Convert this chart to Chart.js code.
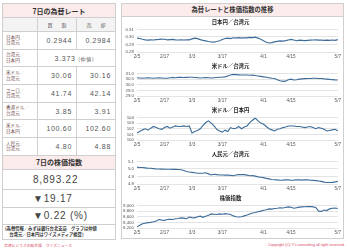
<!DOCTYPE html>
<html lang="ja">
<head>
<meta charset="UTF-8">
<title>為替レートと株価指数の推移</title>
<script src="https://cdn.jsdelivr.net/npm/chart.js"></script>
<style>
  body { margin: 0; width: 350px; height: 249px; background: #fff; position: relative; overflow: hidden;
         font-family: "Liberation Sans", "Noto Sans CJK JP", sans-serif; color: #555; }
  #left { position: absolute; left: 2px; top: 3px; width: 113px; }
  #left table { border-collapse: collapse; width: 113px; table-layout: fixed; }
  #left td { border: 1px solid #cfcfcf; padding: 0; }
  .band { background: #fcebeb; text-align: center; font-weight: bold; font-size: 7px; color: #333;
          font-family: "Noto Sans CJK JP", sans-serif; height: 13px; }
  .hdr td { background: #f3f3f3; height: 13px; text-align: center; font-size: 5px;
            font-family: "Noto Sans CJK JP", sans-serif; }
  .rate td { height: 16.7px; }
  .lbl { font-size: 4.6px; line-height: 5.7px; padding-left: 3px !important; color: #6d4545;
         font-family: "Noto Sans CJK JP", sans-serif; }
  .num { font-size: 7px; letter-spacing: 0.7px; text-align: right; padding-right: 4px !important; }
  .stock td { border-top: none; border-bottom: none; font-size: 10px; letter-spacing: 0.8px;
              padding-left: 30px !important; color: #444; }
  .note { font-size: 4.3px; line-height: 5.4px; font-weight: bold; color: #333; padding: 1px 2px !important;
          font-family: "Noto Sans CJK JP", sans-serif; height: 12px; }
  #right { position: absolute; left: 121px; top: 3px; width: 223px; height: 236px; box-sizing: border-box;
           border: 1px solid #cfcfcf; }
  #right .band { height: 12px; line-height: 12px; font-size: 6.3px; border-bottom: 1px solid #cfcfcf; }
  #right canvas { position: absolute; left: 0; }
  .foot { position: absolute; top: 243px; font-size: 3.8px; color: #d8475e; white-space: nowrap; }
</style>
</head>
<body>
<div id="left">
  <table>
    <colgroup><col style="width:35px"><col style="width:39px"><col style="width:39px"></colgroup>
    <tr><td class="band" colspan="3">7日の為替レート</td></tr>
    <tr class="hdr"><td></td><td><span style="letter-spacing:9px;margin-right:-9px">買取</span></td><td><span style="letter-spacing:9px;margin-right:-9px">売却</span></td></tr>
    <tr class="rate"><td class="lbl">日本円／<br>台湾元</td><td class="num">0.2944</td><td class="num">0.2984</td></tr>
    <tr class="rate"><td class="lbl">台湾元／<br>日本円</td><td class="num" colspan="2" style="text-align:center;padding-right:0">3.373 <span style="font-size:5px;font-family:'Noto Sans CJK JP'">(仲値)</span></td></tr>
    <tr class="rate"><td class="lbl">米ドル／<br>台湾元</td><td class="num">30.06</td><td class="num">30.16</td></tr>
    <tr class="rate"><td class="lbl">ユーロ／<br>台湾元</td><td class="num">41.74</td><td class="num">42.14</td></tr>
    <tr class="rate"><td class="lbl">香港ドル／<br>台湾元</td><td class="num">3.85</td><td class="num">3.91</td></tr>
    <tr class="rate"><td class="lbl">米ドル／<br>日本円</td><td class="num">100.60</td><td class="num">102.60</td></tr>
    <tr class="rate"><td class="lbl">人民元／<br>台湾元</td><td class="num">4.80</td><td class="num">4.88</td></tr>
    <tr><td class="band" colspan="3">7日の株価指数</td></tr>
    <tr class="stock"><td colspan="3" style="height:19px">8,893.22</td></tr>
    <tr class="stock"><td colspan="3" style="height:17px">▼19.17</td></tr>
    <tr class="stock"><td colspan="3" style="height:16px">▼0.22 (%)</td></tr>
    <tr><td class="note" colspan="3">(為替情報／みずほ銀行台北支店　グラフは仲値<br>　台湾元／日本円はワイズメディア換算)</td></tr>
  </table>
</div>
<div id="right">
  <div class="band">為替レートと株価指数の推移</div>
  <canvas id="c1" width="221" height="44" style="top:13px"></canvas>
  <canvas id="c2" width="221" height="44" style="top:57px"></canvas>
  <canvas id="c3" width="221" height="44" style="top:101px"></canvas>
  <canvas id="c4" width="221" height="44" style="top:145px"></canvas>
  <canvas id="c5" width="221" height="44" style="top:189px"></canvas>
</div>
<div class="foot" style="left:4px;font-family:'Noto Sans CJK JP'">台湾ビジネスの総合版　ワイズニュース</div>
<div class="foot" style="right:5px">Copyright (C) Y's consulting all right reserved.</div>

<script>
const dates = ["2/5","2/6","2/7","2/8","2/9","2/10","2/11","2/12","2/13","2/14","2/17",
  "2/18","2/19","2/20","2/21","2/22","2/24","2/25","2/26","2/27","3/3",
  "3/4","3/5","3/6","3/7","3/8","3/10","3/11","3/12","3/13","3/14","3/17",
  "3/18","3/19","3/20","3/21","3/22","3/23","3/24","3/25","3/26","3/27","3/28","3/29","3/30","3/31","4/1",
  "4/2","4/3","4/4","4/7","4/8","4/9","4/10","4/11","4/14","4/15",
  "4/16","4/17","4/18","4/19","4/21","4/22","4/23","4/24","4/25","4/26","4/28","4/29","4/30","5/2","5/5","5/6","5/7"];
const tickDates = ["2/5","2/17","3/3","3/17","4/1","4/15","5/7"];

const jpyTwd = [0.2985,0.2980,0.2970,0.2962,0.2958,0.2962,0.2960,0.2965,0.2968,0.2972,0.2970,
  0.2962,0.2965,0.2968,0.2962,0.2960,0.2962,0.2960,0.2964,0.2962,0.2975,
  0.2985,0.2978,0.2965,0.2955,0.2948,0.2940,0.2935,0.2932,0.2940,0.2950,0.2965,
  0.2980,0.2985,0.2978,0.2990,0.2985,0.2992,0.2985,0.2990,0.2988,0.2995,0.2992,0.2998,0.2985,0.2970,0.2950,
  0.2930,0.2920,0.2925,0.2935,0.2942,0.2948,0.2945,0.2952,0.2960,0.2968,
  0.2960,0.2950,0.2958,0.2955,0.2952,0.2955,0.2958,0.2960,0.2962,0.2958,0.2960,0.2955,0.2958,0.2955,0.2960,0.2955,0.2965];
const usdTwd = [30.62,30.60,30.58,30.60,30.62,30.60,30.58,30.60,30.62,30.60,30.57,
  30.58,30.62,30.64,30.62,30.65,30.66,30.64,30.65,30.66,30.66,
  30.64,30.62,30.60,30.62,30.64,30.62,30.60,30.62,30.64,30.66,30.66,
  30.70,30.78,30.86,30.92,30.90,30.88,30.86,30.87,30.86,30.84,30.85,30.82,30.78,30.74,30.70,
  30.66,30.62,30.58,30.56,30.45,30.35,30.30,30.32,30.45,30.50,
  30.42,30.45,30.50,30.52,30.54,30.55,30.56,30.58,30.57,30.56,30.55,30.52,30.50,30.48,30.45,30.43,30.42];
const usdJpy = [101.25,101.5,101.8,102.0,101.75,102.1,102.4,102.2,102.0,101.9,102.2,
  102.4,102.1,102.3,102.5,102.4,102.4,102.5,102.4,102.5,101.25,
  101.5,101.7,102.0,102.6,103.1,103.4,103.0,102.5,101.9,101.6,101.4,
  101.75,101.5,102.2,102.0,102.1,102.4,102.0,102.3,102.5,103.1,103.5,103.9,103.4,103.0,102.8,
  102.4,102.0,101.8,101.6,101.9,102.0,102.2,102.3,102.5,102.5,
  102.5,102.4,102.4,102.3,102.2,102.3,102.4,102.2,102.0,102.2,102.1,101.9,101.6,101.7,101.8,101.9,101.6];
const cnyTwd = [5.025,5.02,5.02,5.015,5.01,5.01,5.005,5.0,5.0,4.998,4.996,
  4.996,4.996,4.995,4.996,4.994,4.99,4.98,4.967,4.96,4.955,
  4.95,4.944,4.944,4.944,4.95,4.935,4.92,4.93,4.925,4.92,4.92,
  4.918,4.92,4.915,4.91,4.92,4.925,4.925,4.925,4.918,4.91,4.912,4.905,4.895,4.89,4.885,
  4.875,4.868,4.86,4.857,4.855,4.85,4.852,4.857,4.855,4.85,
  4.852,4.857,4.855,4.852,4.857,4.855,4.85,4.848,4.845,4.84,4.835,4.825,4.82,4.82,4.822,4.828,4.835];
const taiex = [8240,8300,8350,8370,8390,8400,8420,8450,8500,8480,8470,
  8500,8510,8500,8530,8540,8560,8550,8530,8590,8570,
  8560,8600,8620,8580,8620,8650,8700,8690,8680,8700,8690,
  8710,8700,8680,8630,8600,8590,8600,8630,8660,8700,8730,8750,8780,8800,8830,
  8850,8880,8870,8890,8900,8920,8910,8930,8950,8940,
  8900,8920,8940,8950,8955,8960,8965,8950,8930,8800,8790,8840,8820,8880,8900,8912,8893];

const axisY1 = [0.28, 0.31, 0.01, 2];
const axisY2 = [29.0, 31.0, 0.5, 1];
const axisY3 = [100, 104, 1, 0];
const axisY4 = [4.8, 5.1, 0.1, 1];
const axisY5 = [8200, 9000, 200, -1];

Chart.defaults.font.family = "'Liberation Sans', 'Noto Sans CJK JP', sans-serif";
Chart.defaults.color = '#555';

function drawLine(id, title, values, axis) {
  const [min, max, step, dec] = axis;
  new Chart(document.getElementById(id), {
    type: 'line',
    data: {
      labels: dates,
      datasets: [{ data: values, borderColor: '#3d6c99', borderWidth: 1.1, pointRadius: 0, tension: 0, fill: false }]
    },
    options: {
      responsive: false,
      animation: false,
      layout: { padding: { left: 0, right: 4, top: 0, bottom: 0 } },
      plugins: {
        legend: { display: false },
        tooltip: { enabled: false },
        title: { display: true, text: title, color: '#222',
                 font: { size: 5.4, weight: 'bold', family: "'Noto Sans CJK JP', sans-serif" },
                 padding: { top: 2, bottom: 4 } }
      },
      scales: {
        x: {
          grid: { display: false, drawTicks: false },
          border: { display: false },
          afterFit: s => { s.height = 9; },
          ticks: {
            autoSkip: false, maxRotation: 0, padding: 2, font: { size: 4.6 },
            callback: function (v) { const l = this.getLabelForValue(v); return tickDates.includes(l) ? l : ''; }
          }
        },
        y: {
          min: min, max: max,
          grid: { color: '#dddddd', drawTicks: false, lineWidth: 0.8 },
          border: { display: false },
          afterFit: s => { s.width = 15; },
          ticks: {
            autoSkip: false, stepSize: step, padding: 3, font: { size: 4.4 },
            callback: v => dec < 0 ? Math.round(v).toLocaleString('en-US') : Number(v).toFixed(dec)
          }
        }
      }
    }
  });
}

drawLine('c1', '日本円／台湾元', jpyTwd, axisY1);
drawLine('c2', '米ドル／台湾元', usdTwd, axisY2);
drawLine('c3', '米ドル／日本円', usdJpy, axisY3);
drawLine('c4', '人民元／台湾元', cnyTwd, axisY4);
drawLine('c5', '株価指数', taiex, axisY5);
</script>
</body>
</html>
